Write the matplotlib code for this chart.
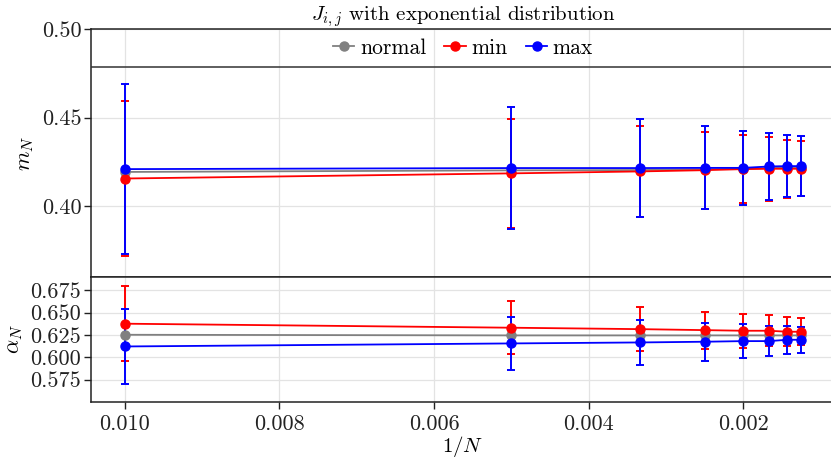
import matplotlib
matplotlib.use("Agg")
import matplotlib.pyplot as plt
from matplotlib.lines import Line2D
import matplotlib.ticker as mticker

plt.rcParams['font.family'] = 'serif'
plt.rcParams['font.serif'] = ['cmr10', 'DejaVu Serif']
plt.rcParams['mathtext.fontset'] = 'cm'
plt.rcParams['axes.formatter.use_mathtext'] = True

N = [100, 200, 300, 400, 500, 600, 700, 800]
inv_N = [1.0 / n for n in N]

m_normal = [0.4193, 0.4202, 0.4204, 0.4208, 0.4211, 0.4215, 0.4217, 0.4218]
m_min = [0.4156, 0.4185, 0.4196, 0.4203, 0.4209, 0.4211, 0.4211, 0.4211]
m_min_err = [0.0437, 0.0308, 0.0256, 0.0217, 0.0194, 0.0181, 0.0164, 0.0156]
m_max = [0.4209, 0.4215, 0.4215, 0.4216, 0.4216, 0.4224, 0.4226, 0.4226]
m_max_err = [0.0480, 0.0343, 0.0276, 0.0234, 0.0210, 0.0190, 0.0177, 0.0168]

a_normal = [0.6253, 0.6246, 0.6246, 0.6246, 0.6246, 0.6246, 0.6246, 0.6246]
a_min = [0.6377, 0.6332, 0.6316, 0.6305, 0.6298, 0.6298, 0.6287, 0.6287]
a_min_err = [0.0418, 0.0299, 0.0249, 0.0208, 0.0190, 0.0175, 0.0164, 0.0149]
a_max = [0.6122, 0.6156, 0.6167, 0.6175, 0.6182, 0.6182, 0.6197, 0.6197]
a_max_err = [0.0424, 0.0295, 0.0249, 0.0212, 0.0187, 0.0172, 0.0157, 0.0148]

labels = ['normal', 'min', 'max']
colors = ['#808080', '#ff0000', '#0000ff']

fig = plt.figure(figsize=(8.31, 4.61), dpi=100)
L, R = 91 / 831, 835 / 831
ax1 = fig.add_axes([L, 1 - 277 / 461, R - L, (277 - 29) / 461])
ax2 = fig.add_axes([L, 1 - 402 / 461, R - L, (402 - 277) / 461], sharex=ax1)

top_series = [(m_normal, None), (m_min, m_min_err), (m_max, m_max_err)]
bot_series = [(a_normal, None), (a_min, a_min_err), (a_max, a_max_err)]

for ax, series in [(ax1, top_series), (ax2, bot_series)]:
    for (y, e), c, lab in zip(series, colors, labels):
        ax.errorbar(inv_N, y, yerr=e, color=c, marker='o', markersize=6.5,
                    linewidth=1.3, elinewidth=1.4, capsize=2.8, capthick=1.4,
                    label=lab, zorder=3)
    ax.grid(True, color='#e3e3e3', linewidth=0.9, zorder=0)
    ax.set_axisbelow(True)
    ax.spines['right'].set_visible(False)
    for s in ['left', 'top', 'bottom']:
        ax.spines[s].set_color('#222222')
        ax.spines[s].set_linewidth(1.1)
    ax.tick_params(axis='both', direction='out', length=5, width=1, colors='#222222',
                   labelcolor='#222222', labelsize=16, pad=2)

ax1.set_xlim(0.010437, 0.000813)
ax1.set_xticks([0.010, 0.008, 0.006, 0.004, 0.002])
ax1.tick_params(axis='x', labelbottom=False, length=0)
ax2.xaxis.set_major_formatter(mticker.FormatStrFormatter('%.3f'))
ax2.tick_params(axis='x', pad=4)

ax1.set_ylim(0.36, 0.50)
ax1.set_yticks([0.40, 0.45, 0.50])
ax1.yaxis.set_major_formatter(mticker.FormatStrFormatter('%.2f'))
ax2.set_ylim(0.55, 0.69)
ax2.set_yticks([0.575, 0.600, 0.625, 0.650, 0.675])
ax2.yaxis.set_major_formatter(mticker.FormatStrFormatter('%.3f'))

ax1.axhline(0.4785, color='#333333', linewidth=1.1, zorder=4)
handles = [Line2D([], [], color=c, marker='o', markersize=6.5, linewidth=1.3) for c in colors]
ax1.legend(handles=handles, labels=labels, loc='center', bbox_to_anchor=(0.5, 0.923),
           ncol=3, frameon=False, fontsize=15.5, handlelength=1.0, handletextpad=0.25,
           columnspacing=0.85, borderaxespad=0)

ax1.set_ylabel('$m_N$', fontsize=16, labelpad=4)
ax2.set_ylabel(r'$\alpha_N$', fontsize=16, labelpad=4)
ax2.set_xlabel('$1/N$', fontsize=15, labelpad=0)
ax1.set_title('$J_{i,j}$ with exponential distribution', fontsize=15, pad=5)

fig.savefig('out.png', dpi=100)
